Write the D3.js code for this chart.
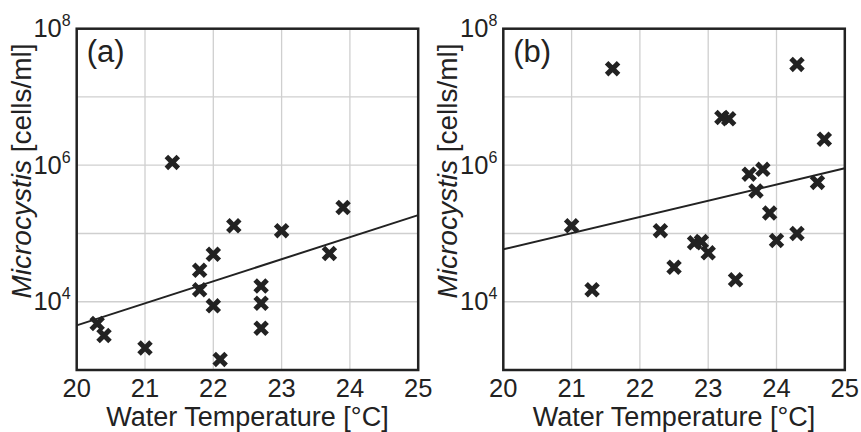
<!DOCTYPE html>
<html>
<head>
<meta charset="utf-8">
<script src="https://cdn.jsdelivr.net/npm/d3@7"></script>
<style>
  body { margin: 0; background: #fff; }
  svg { display: block; font-family: "Liberation Sans", Arial, sans-serif; }
</style>
</head>
<body>
<div class="chart"></div>
<script>
const width = 861;
const height = 432;

// panel (a)
const tempA = [21.4, 23.9, 22.3, 23.0, 22.0, 23.7, 21.8, 21.8, 22.7, 22.7, 22.0, 22.7, 20.3, 20.4, 21.0, 22.1];
const cellsA = [1.1e6, 2.4e5, 1.3e5, 1.1e5, 4.95e4, 5.1e4, 2.9e4, 1.5e4, 1.7e4, 9.5e3, 8.7e3, 4.1e3, 4.8e3, 3.2e3, 2.1e3, 1.43e3];
const fitA = [[20, 4.5e3], [25, 1.86e5]];

// panel (b)
const tempB = [21.6, 24.3, 23.2, 23.3, 24.7, 23.8, 23.6, 24.6, 23.7, 23.9, 21.0, 22.3, 24.0, 24.3, 22.8, 22.9, 23.0, 22.5, 23.4, 21.3];
const cellsB = [2.6e7, 3.0e7, 5.0e6, 4.8e6, 2.4e6, 8.7e5, 7.4e5, 5.6e5, 4.2e5, 2.0e5, 1.3e5, 1.1e5, 7.9e4, 1.0e5, 7.3e4, 7.6e4, 5.2e4, 3.2e4, 2.1e4, 1.5e4];
const fitB = [[20, 5.86e4], [25, 9.0e5]];

const xTicks = [20, 21, 22, 23, 24, 25];
const yTicks = [1e4, 1e6, 1e8];
const yExp = [4, 6, 8];
const yGrid = [1e4, 1e5, 1e6, 1e7];
const xGrid = [21, 22, 23, 24];

const panels = [
  { label: '(a)', left: 76.7, temp: tempA, cells: cellsA, fit: fitA },
  { label: '(b)', left: 503.3, temp: tempB, cells: cellsB, fit: fitB }
];

const pw = 341.5;
const plotTop = 28.7;
const ph = 341.3;
const ink = '#222';

const svg = d3
  .select('.chart')
  .append('svg')
  .attr('width', width)
  .attr('height', height);

panels.forEach((p) => {
  const x = d3.scaleLinear().domain([20, 25]).range([p.left, p.left + pw]);
  const y = d3.scaleLog().domain([1e3, 1e8]).range([plotTop + ph, plotTop]);

  const g = svg.append('g');

  // grid
  g.selectAll('line.gx')
    .data(xGrid)
    .enter()
    .append('line')
    .attr('x1', (d) => x(d))
    .attr('x2', (d) => x(d))
    .attr('y1', plotTop)
    .attr('y2', plotTop + ph)
    .attr('stroke', '#cfcfcf')
    .attr('stroke-width', 1.3);

  g.selectAll('line.gy')
    .data(yGrid)
    .enter()
    .append('line')
    .attr('x1', p.left)
    .attr('x2', p.left + pw)
    .attr('y1', (d) => y(d))
    .attr('y2', (d) => y(d))
    .attr('stroke', '#cfcfcf')
    .attr('stroke-width', 1.3);

  // fitted line
  const line = d3
    .line()
    .x((d) => x(d[0]))
    .y((d) => y(d[1]));

  g.append('path')
    .attr('d', line(p.fit))
    .attr('fill', 'none')
    .attr('stroke', ink)
    .attr('stroke-width', 2);

  // points
  const symbol = d3.symbol(d3.symbolX, 95);
  g.selectAll('path.pt')
    .data(p.temp.map((t, i) => [t, p.cells[i]]))
    .enter()
    .append('path')
    .attr('d', symbol)
    .attr('transform', (d) => `translate(${x(d[0])},${y(d[1])})`)
    .attr('fill', 'none')
    .attr('stroke', ink)
    .attr('stroke-width', 5);

  // frame
  g.append('rect')
    .attr('x', p.left)
    .attr('y', plotTop)
    .attr('width', pw)
    .attr('height', ph)
    .attr('fill', 'none')
    .attr('stroke', ink)
    .attr('stroke-width', 2.5);

  // x tick labels
  g.selectAll('text.xt')
    .data(xTicks)
    .enter()
    .append('text')
    .attr('x', (d) => x(d))
    .attr('y', 397)
    .attr('text-anchor', 'middle')
    .attr('font-size', 25.5)
    .attr('fill', ink)
    .text((d) => d);

  // y tick labels
  const yt = g
    .selectAll('text.yt')
    .data(yTicks)
    .enter()
    .append('text')
    .attr('x', p.left - 6)
    .attr('y', (d) => y(d) + 8.6)
    .attr('text-anchor', 'end')
    .attr('font-size', 25.5)
    .attr('fill', ink);
  yt.append('tspan').text('10');
  yt.append('tspan')
    .attr('dy', -11)
    .attr('font-size', 16)
    .text((d, i) => yExp[i]);

  // axis titles
  g.append('text')
    .attr('x', p.left + pw / 2)
    .attr('y', 426)
    .attr('text-anchor', 'middle')
    .attr('font-size', 27)
    .attr('fill', ink)
    .text('Water Temperature [°C]');

  const yl = g
    .append('text')
    .attr('transform', `translate(${p.left - 46},171) rotate(-90)`)
    .attr('text-anchor', 'middle')
    .attr('font-size', 28)
    .attr('fill', ink);
  yl.append('tspan').attr('font-style', 'italic').text('Microcystis');
  yl.append('tspan').text(' [cells/ml]');

  // panel label
  g.append('text')
    .attr('x', p.left + 10)
    .attr('y', 62)
    .attr('font-size', 31)
    .attr('fill', ink)
    .text(p.label);
});
</script>
</body>
</html>
